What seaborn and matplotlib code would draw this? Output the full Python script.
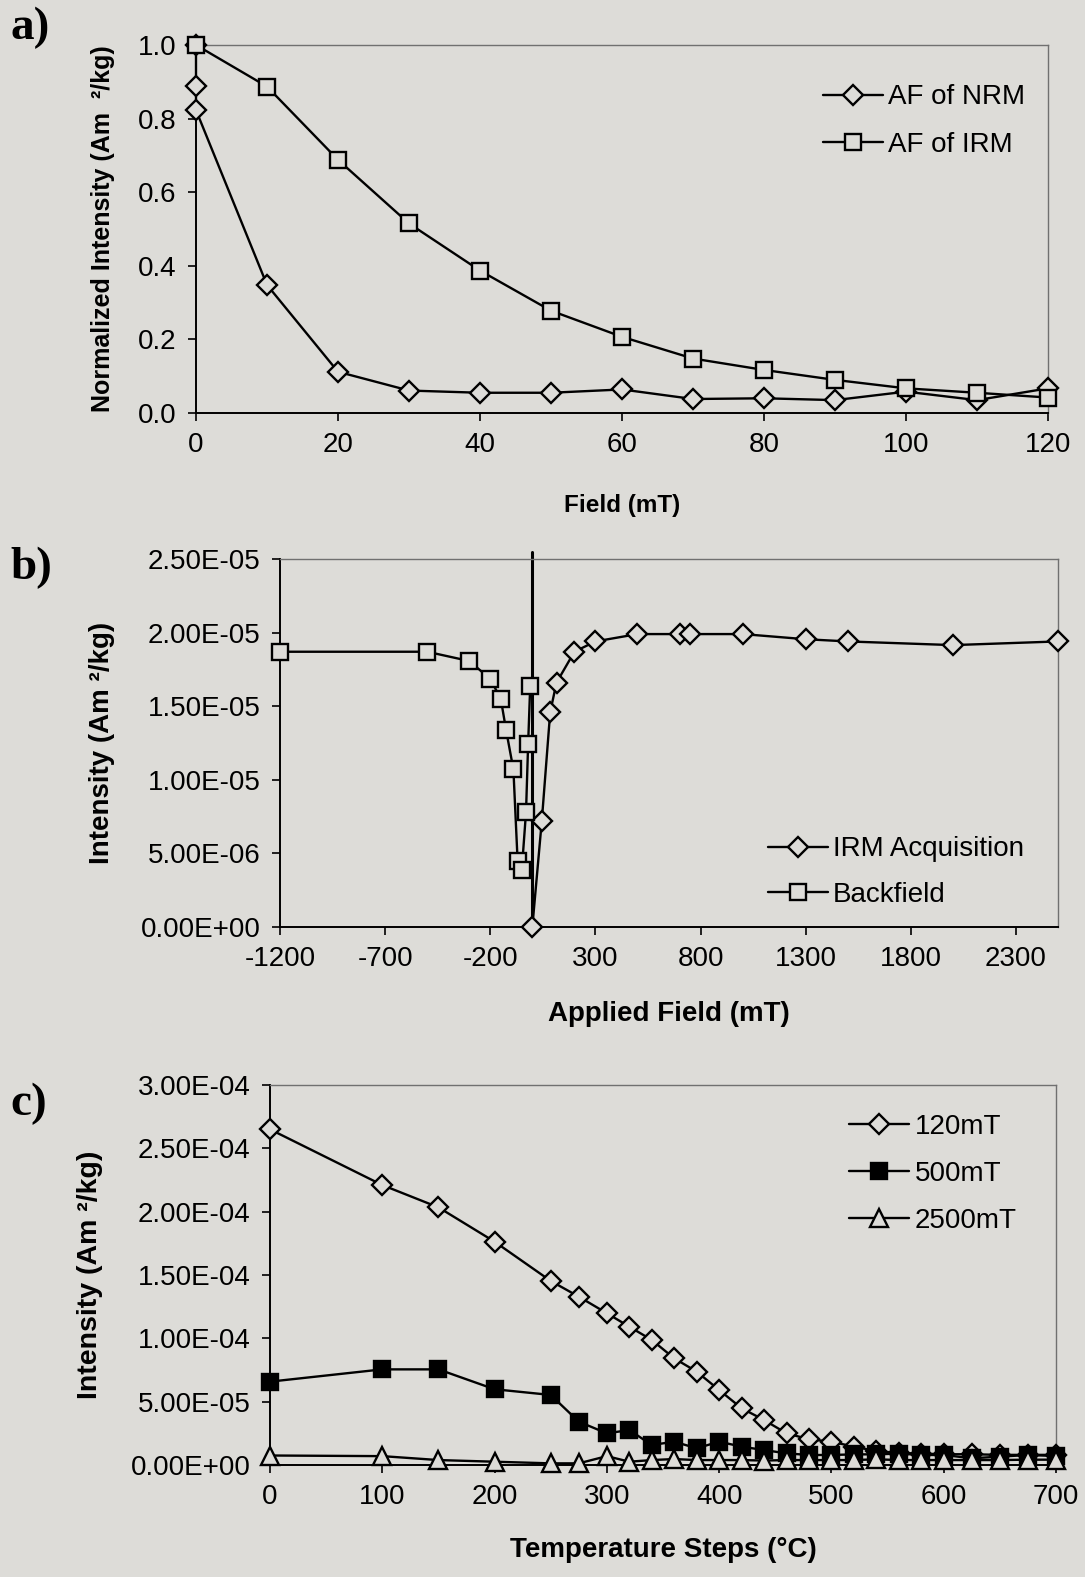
import matplotlib
matplotlib.use("Agg")
import matplotlib.pyplot as plt
import seaborn as sns
from matplotlib.ticker import FuncFormatter

# ---------------- data ----------------
# a) AF demagnetisation
af_field_nrm = [0, 0, 0, 10, 20, 30, 40, 50, 60, 70, 80, 90, 100, 110, 120]
af_nrm = [1.0, 0.889, 0.823, 0.348, 0.112, 0.061, 0.055, 0.055, 0.064, 0.038,
          0.040, 0.035, 0.058, 0.035, 0.067]
af_field_irm = [0, 10, 20, 30, 40, 50, 60, 70, 80, 90, 100, 110, 120]
af_irm = [1.0, 0.887, 0.688, 0.515, 0.387, 0.278, 0.207, 0.148, 0.117, 0.090,
          0.067, 0.055, 0.042]

# b) IRM acquisition and backfield
irm_acq_field = [0, 45, 85, 115, 200, 300, 500, 700, 750, 1000, 1300, 1500, 2000, 2500]
irm_acq = [0.0, 7.2e-6, 14.6e-6, 16.6e-6, 18.7e-6, 19.4e-6, 19.9e-6, 19.9e-6,
           19.9e-6, 19.9e-6, 19.55e-6, 19.4e-6, 19.15e-6, 19.4e-6]
backfield_field = [-1200, -500, -300, -200, -150, -125, -90, -70, -50, -30, -20, -10]
backfield = [18.7e-6, 18.7e-6, 18.07e-6, 16.85e-6, 15.5e-6, 13.4e-6, 10.7e-6,
             4.5e-6, 3.9e-6, 7.8e-6, 12.4e-6, 16.4e-6]

# c) thermal demagnetisation of three-component IRM
temp_steps = [0, 100, 150, 200, 250, 275, 300, 320, 340, 360, 380, 400, 420, 440,
              460, 480, 500, 520, 540, 560, 580, 600, 625, 650, 675, 700]
irm_120mT = [265e-6, 221e-6, 203.4e-6, 176.3e-6, 145.3e-6, 132.9e-6, 119.8e-6,
             109.2e-6, 98.7e-6, 84.2e-6, 73.7e-6, 59.2e-6, 44.8e-6, 35.5e-6, 25e-6,
             20.3e-6, 18.4e-6, 14.5e-6, 11e-6, 9.5e-6, 9e-6, 8.5e-6, 8.5e-6, 8e-6,
             8e-6, 8e-6]
irm_500mT = [65.8e-6, 75.5e-6, 75.5e-6, 59.8e-6, 55.3e-6, 34.2e-6, 25e-6, 27.6e-6,
             15.8e-6, 18.4e-6, 13.2e-6, 18.4e-6, 14.5e-6, 11.8e-6, 9.2e-6, 7.9e-6,
             7.9e-6, 8.4e-6, 8.4e-6, 9.0e-6, 7.9e-6, 7.9e-6, 5.3e-6, 6.6e-6, 7.9e-6,
             7.1e-6]
irm_2500mT = [7.5e-6, 7.0e-6, 3.9e-6, 2.6e-6, 1.3e-6, 1.3e-6, 7.0e-6, 2.6e-6,
              3.9e-6, 4.7e-6, 3.9e-6, 3.9e-6, 3.9e-6, 3.5e-6, 3.9e-6, 3.9e-6,
              3.9e-6, 3.9e-6, 4.5e-6, 3.9e-6, 3.9e-6, 3.9e-6, 3.9e-6, 3.9e-6,
              4.2e-6, 4.2e-6]

# ---------------- style ----------------
BG = "#dddcd8"
sns.set_theme(style="ticks")
plt.rcParams["font.family"] = ["Liberation Sans", "DejaVu Sans"]
plt.rcParams["axes.facecolor"] = BG
plt.rcParams["figure.facecolor"] = BG
for k in ("text.color", "axes.labelcolor", "xtick.color", "ytick.color"):
    plt.rcParams[k] = "black"

W, H = 1085, 1577
fig = plt.figure(figsize=(W / 100, H / 100), dpi=100)


def add_ax(left, top, right, bottom):
    return fig.add_axes([left / W, 1 - bottom / H, (right - left) / W, (bottom - top) / H])


def style_ax(ax, fs=20):
    ax.set_facecolor(BG)
    for s in ("left", "bottom"):
        ax.spines[s].set_color("black")
        ax.spines[s].set_linewidth(1.4)
    for s in ("top", "right"):
        ax.spines[s].set_visible(True)
        ax.spines[s].set_color("#707070")
        ax.spines[s].set_linewidth(1.0)
    ax.tick_params(direction="out", length=6, width=1.2, colors="black",
                   labelcolor="black", labelsize=fs, pad=8)


def series(ax, x, y, label, marker, ms, fill=BG):
    sns.lineplot(x=x, y=y, ax=ax, estimator=None, sort=False, errorbar=None,
                 color="black", linewidth=1.7, marker=marker, markersize=ms,
                 markerfacecolor=fill, markeredgecolor="black",
                 markeredgewidth=1.7, label=label, clip_on=False, zorder=3)


def legend(ax, anchor, spacing):
    leg = ax.legend(loc="upper left", bbox_to_anchor=anchor, frameon=False,
                    fontsize=20, handlelength=2.15, handletextpad=0.2,
                    labelspacing=spacing, borderpad=0, borderaxespad=0)
    for t in leg.get_texts():
        t.set_color("black")


# ---------------- panel a ----------------
axa = add_ax(196, 45, 1048, 413)
style_ax(axa)
series(axa, af_field_nrm, af_nrm, "AF of NRM", "D", 10)
series(axa, af_field_irm, af_irm, "AF of IRM", "s", 11.5)
axa.set_xlim(0, 120)
axa.set_ylim(0, 1.0)
axa.set_xticks(range(0, 121, 20))
axa.set_yticks([0, 0.2, 0.4, 0.6, 0.8, 1.0])
axa.yaxis.set_major_formatter(FuncFormatter(lambda v, p: f"{v:.1f}"))
axa.set_xlabel("Field (mT)", fontsize=17.5, fontweight="bold")
axa.set_ylabel("Normalized Intensity (Am  ²/kg)", fontsize=18, fontweight="bold")
axa.xaxis.set_label_coords(0.5, -0.22)
axa.yaxis.set_label_coords(-0.095, 0.5)
legend(axa, (0.736, 0.893), 0.77)

# ---------------- panel b ----------------
axb = add_ax(280, 559, 1058, 927)
style_ax(axb)
axb.axvline(0, ymin=0, ymax=1.02, color="black", linewidth=2.2, clip_on=False, zorder=2)
series(axb, irm_acq_field, irm_acq, "IRM Acquisition", "D", 10)
series(axb, backfield_field, backfield, "Backfield", "s", 11.5)
axb.set_xlim(-1200, 2500)
axb.set_ylim(0, 2.5e-5)
bx = [-1200, -700, -200, 300, 800, 1300, 1800, 2300]
axb.set_xticks(bx)
axb.set_xticklabels([str(v) for v in bx])
axb.set_yticks([i * 5e-6 for i in range(6)])
axb.yaxis.set_major_formatter(FuncFormatter(lambda v, p: f"{v:.2E}"))
axb.set_xlabel("Applied Field (mT)", fontsize=20, fontweight="bold")
axb.set_ylabel("Intensity (Am ²/kg)", fontsize=20, fontweight="bold")
axb.xaxis.set_label_coords(0.5, -0.2)
axb.yaxis.set_label_coords(-0.212, 0.5)
legend(axb, (0.627, 0.246), 0.69)

# ---------------- panel c ----------------
axc = add_ax(270, 1085, 1056, 1465)
style_ax(axc)
series(axc, temp_steps, irm_120mT, "120mT", "D", 10)
series(axc, temp_steps, irm_500mT, "500mT", "s", 12, fill="black")
series(axc, temp_steps, irm_2500mT, "2500mT", "^", 13.5)
axc.set_xlim(0, 700)
axc.set_ylim(0, 3e-4)
axc.set_xticks(range(0, 701, 100))
axc.set_yticks([i * 5e-5 for i in range(7)])
axc.yaxis.set_major_formatter(FuncFormatter(lambda v, p: f"{v:.2E}"))
axc.set_xlabel("Temperature Steps (°C)", fontsize=20, fontweight="bold")
axc.set_ylabel("Intensity (Am ²/kg)", fontsize=20.5, fontweight="bold")
axc.xaxis.set_label_coords(0.5, -0.19)
axc.yaxis.set_label_coords(-0.212, 0.5)
legend(axc, (0.737, 0.924), 0.75)

# ---------------- panel letters ----------------
for txt, y in (("a)", 28), ("b)", 568), ("c)", 1104)):
    fig.text(10 / W, 1 - y / H, txt, fontsize=34, fontweight="bold",
             family=["Liberation Serif", "DejaVu Serif"], ha="left", va="center")

fig.savefig("out.png", dpi=100, facecolor=BG)
